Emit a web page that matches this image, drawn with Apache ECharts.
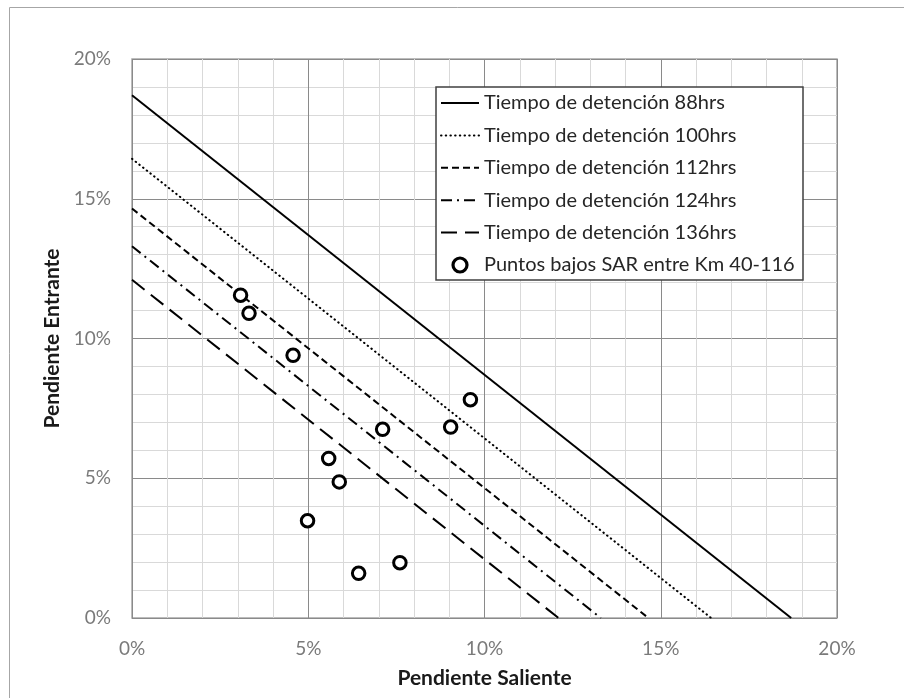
<!DOCTYPE html>
<html>
<head>
<meta charset="utf-8">
<title>Tiempo de detención</title>
<script src="https://cdn.jsdelivr.net/npm/echarts@6/dist/echarts.min.js"></script>
<style>
  html, body { margin: 0; padding: 0; background: #fff; }
  #chart { width: 904px; height: 698px; }
</style>
</head>
<body>
<div id="chart"></div>
<script>
// Detention-time lines: each runs from (0, intercept) to (intercept, 0), in percent
var lineNames = [
  'Tiempo de detención 88hrs',
  'Tiempo de detención 100hrs',
  'Tiempo de detención 112hrs',
  'Tiempo de detención 124hrs',
  'Tiempo de detención 136hrs'
];
var lineIntercepts = [18.7, 16.43, 14.65, 13.3, 12.1];

// SAR low points: outgoing slope (x) and incoming slope (y), in percent
var pointsName = 'Puntos bajos SAR entre Km 40-116';
var pointsX = [3.08, 3.32, 4.57, 9.60, 9.04, 7.11, 5.58, 5.88, 4.98, 6.43, 7.60];
var pointsY = [11.55, 10.90, 9.40, 7.81, 6.83, 6.75, 5.71, 4.87, 3.48, 1.60, 1.98];

// Axis ticks (percent)
var axisTicks = [0, 5, 10, 15, 20];

var xTitle = 'Pendiente Saliente';
var yTitle = 'Pendiente Entrante';

var FONT = 'Lato';

// Dash patterns for each detention line
var lineDashes = [
  { type: 'solid', cap: 'butt' },
  { type: [0.5, 4.2], cap: 'round' },
  { type: [7, 4], cap: 'butt' },
  { type: [11, 5, 2, 5], cap: 'butt' },
  { type: [16, 8], cap: 'butt' }
];

var series = lineNames.map(function (name, i) {
  var a = lineIntercepts[i];
  return {
    name: name,
    type: 'line',
    symbol: 'none',
    silent: true,
    z: 2,
    color: '#000',
    data: [[0, a], [a, 0]],
    lineStyle: { color: '#000', width: 2, type: lineDashes[i].type, cap: lineDashes[i].cap }
  };
});

series.push({
  name: pointsName,
  type: 'scatter',
  symbol: 'circle',
  symbolSize: 12.5,
  z: 3,
  data: pointsX.map(function (x, i) { return [x, pointsY[i]]; }),
  itemStyle: { color: '#fff', borderColor: '#000', borderWidth: 3, opacity: 1 }
});

// Legend entries: line entries show only the stroked line sample
var legendData = lineNames.map(function (name) {
  return { name: name, itemStyle: { opacity: 0 } };
}).concat([{ name: pointsName, itemStyle: { borderWidth: 3.2 } }]);

var axisCommon = {
  type: 'value',
  min: axisTicks[0],
  max: axisTicks[axisTicks.length - 1],
  interval: axisTicks[1] - axisTicks[0],
  axisLine: { show: false },
  axisTick: { show: false },
  minorTick: { show: false, splitNumber: 5 },
  splitLine: { show: true, lineStyle: { color: '#8a8a8a', width: 1 } },
  minorSplitLine: { show: true, lineStyle: { color: '#d9d9d9', width: 1 } },
  axisLabel: {
    formatter: '{value}%',
    color: '#7a7a7a',
    fontFamily: FONT,
    fontSize: 19,
    margin: 21
  },
  nameLocation: 'middle',
  nameTextStyle: { fontFamily: FONT, fontWeight: 'bold', fontSize: 21, color: '#1a1a1a' }
};

var chart = echarts.init(document.getElementById('chart'), null, { renderer: 'canvas' });
chart.setOption({
  animation: false,
  backgroundColor: '#fff',
  grid: {
    left: 132, top: 59, right: 67, bottom: 80,
    show: true, borderColor: '#a6a6a6', borderWidth: 1.5, backgroundColor: 'transparent'
  },
  graphic: [{
    type: 'rect',
    silent: true,
    z: -10,
    shape: { x: 9.5, y: 7.5, width: 1000, height: 1000 },
    style: { fill: 'none', stroke: '#a6a6a6', lineWidth: 1 }
  }],
  xAxis: Object.assign({}, axisCommon, { name: xTitle, nameGap: 50 }),
  yAxis: Object.assign({}, axisCommon, { name: yTitle, nameGap: 67 }),
  legend: {
    orient: 'vertical',
    left: 436,
    top: 87,
    itemWidth: 38,
    itemHeight: 14,
    itemGap: 12.4,
    padding: [6, 4, 5, 4],
    backgroundColor: '#fff',
    borderColor: '#404040',
    borderWidth: 1.5,
    borderRadius: 0,
    selectedMode: false,
    textStyle: {
      fontFamily: FONT,
      fontSize: 20,
      color: '#262626',
      lineHeight: 20,
      width: 315,
      overflow: 'none'
    },
    data: legendData
  },
  series: series
});
</script>
</body>
</html>
